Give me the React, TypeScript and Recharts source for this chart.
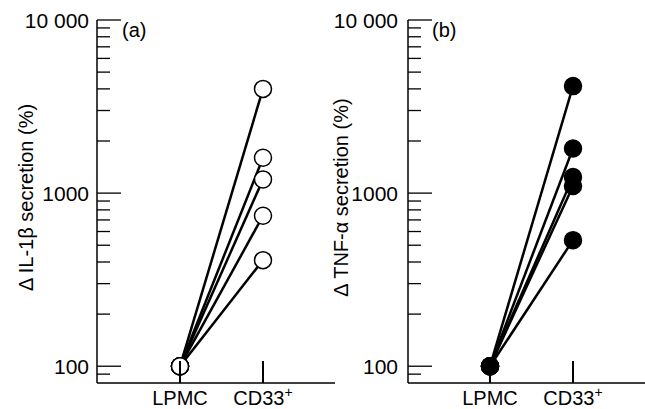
import React from "react";
import { LineChart, Line, XAxis, YAxis } from "recharts";

const categories = ["LPMC", "CD33+"];
const yTicks = [90, 100, 200, 300, 400, 500, 600, 700, 800, 900, 1000, 2000, 3000, 4000, 5000, 6000, 7000, 8000, 9000, 10000];
const majorTicks = [100, 1000, 10000];

// panel (a): IL-1beta, one value per donor
const il1bLPMC = [100, 100, 100, 100, 100];
const il1bCD33 = [4000, 1600, 1200, 740, 410];

// panel (b): TNF-alpha
const tnfLPMC = [100, 100, 100, 100, 100];
const tnfCD33 = [4150, 1810, 1240, 1100, 535];

const FONT = "'Liberation Sans', Arial, Helvetica, sans-serif";

function buildRows(lpmc: number[], cd33: number[]) {
  const rows: Record<string, string | number>[] = categories.map((c) => ({ cat: c }));
  lpmc.forEach((v, i) => {
    rows[0]["s" + i] = v;
  });
  cd33.forEach((v, i) => {
    rows[1]["s" + i] = v;
  });
  return rows;
}

const fmtY = (v: number) => (v === 10000 ? "10 000" : String(v));

// ticks point into the plot, labels only on decades
function YTick(props: any) {
  const { x, y, payload, gap } = props;
  const v = payload.value;
  const major = majorTicks.includes(v);
  return (
    <g>
      <line x1={x} x2={x + (major ? 24 : 13)} y1={y} y2={y} stroke="#000" strokeWidth={1.3} />
      {major && (
        <text x={x - gap} y={y} textAnchor="end" dominantBaseline="central" fontSize={21} fontFamily={FONT} fill="#000">
          {fmtY(v)}
        </text>
      )}
    </g>
  );
}

function XTick(props: any) {
  const { x, y, payload } = props;
  const label = String(payload.value);
  const sup = label.endsWith("+");
  return (
    <g>
      <rect x={x - 1} y={y - 22} width={2} height={22} fill="#000" />
      <text x={x} y={y + 22} textAnchor="middle" fontSize={20} fontFamily={FONT} fill="#000">
        {sup ? label.slice(0, -1) : label}
        {sup && (
          <tspan dy={-8} fontSize={14}>
            +
          </tspan>
        )}
      </text>
    </g>
  );
}

function Panel({
  lpmc,
  cd33,
  width,
  left,
  rightMargin,
  padRight,
  padLeft,
  yLabel,
  labelX,
  tickGap,
  filled,
}: {
  lpmc: number[];
  cd33: number[];
  width: number;
  left: number;
  rightMargin: number;
  padLeft: number;
  padRight: number;
  yLabel: string;
  labelX: number;
  tickGap: number;
  filled: boolean;
}) {
  const data = buildRows(lpmc, cd33);
  const keys = lpmc.map((_, i) => "s" + i);
  return (
    <div style={{ position: "absolute", left, top: 0 }}>
      <LineChart width={width} height={409} data={data} margin={{ top: 20, right: rightMargin, left: 0, bottom: 0 }}>
        <XAxis
          dataKey="cat"
          scale="point"
          padding={{ left: padLeft, right: padRight }}
          height={26}
          tickSize={0}
          tickMargin={0}
          tickLine={false}
          axisLine={{ stroke: "#000", strokeWidth: 1.5 }}
          tick={<XTick />}
          interval={0}
        />
        <YAxis
          type="number"
          scale="log"
          domain={[80, 10000]}
          allowDataOverflow
          ticks={yTicks}
          width={97}
          tickSize={0}
          tickMargin={0}
          tickLine={false}
          interval={0}
          axisLine={{ stroke: "#000", strokeWidth: 1.5 }}
          tick={<YTick gap={tickGap} />}
          label={{
            content: (p: any) => {
              const vb = p.viewBox || { x: 0, y: 20, width: 97, height: 363 };
              const cx = vb.x + labelX;
              const cy = vb.y + vb.height / 2 - 4;
              return (
                <text
                  x={cx}
                  y={cy}
                  transform={`rotate(-90, ${cx}, ${cy})`}
                  textAnchor="middle"
                  dominantBaseline="central"
                  fontSize={20}
                  fontFamily={FONT}
                  fill="#000"
                >
                  {yLabel}
                </text>
              );
            },
          }}
        />
        {keys.map((k) => (
          <Line key={k} dataKey={k} stroke="#000" strokeWidth={2.5} dot={false} isAnimationActive={false} />
        ))}
        {/* markers drawn last so they sit on top of every line */}
        {keys.map((k) => (
          <Line
            key={"d" + k}
            dataKey={k}
            stroke="none"
            strokeWidth={0}
            dot={{ r: 8.5, fill: filled ? "#000" : "#fff", stroke: "#000", strokeWidth: 1.5 }}
            activeDot={false}
            isAnimationActive={false}
          />
        ))}
      </LineChart>
    </div>
  );
}

export default function App() {
  return (
    <div style={{ position: "absolute", left: 0, top: 0, width: 645, height: 409, background: "#fff", overflow: "hidden" }}>
      <Panel
        lpmc={il1bLPMC}
        cd33={il1bCD33}
        width={340}
        left={0}
        rightMargin={5}
        padLeft={83}
        padRight={72}
        yLabel="Δ IL-1β secretion (%)"
        labelX={26}
        tickGap={8}
        filled={false}
      />
      <Panel
        lpmc={tnfLPMC}
        cd33={tnfCD33}
        width={334}
        left={311}
        rightMargin={0}
        padLeft={82}
        padRight={72}
        yLabel="Δ TNF-α secretion (%)"
        labelX={30}
        tickGap={10}
        filled={true}
      />
      <div style={{ position: "absolute", left: 122, top: 18, fontSize: 20, lineHeight: "24px", fontFamily: FONT }}>(a)</div>
      <div style={{ position: "absolute", left: 432, top: 18, fontSize: 20, lineHeight: "24px", fontFamily: FONT }}>(b)</div>
    </div>
  );
}
